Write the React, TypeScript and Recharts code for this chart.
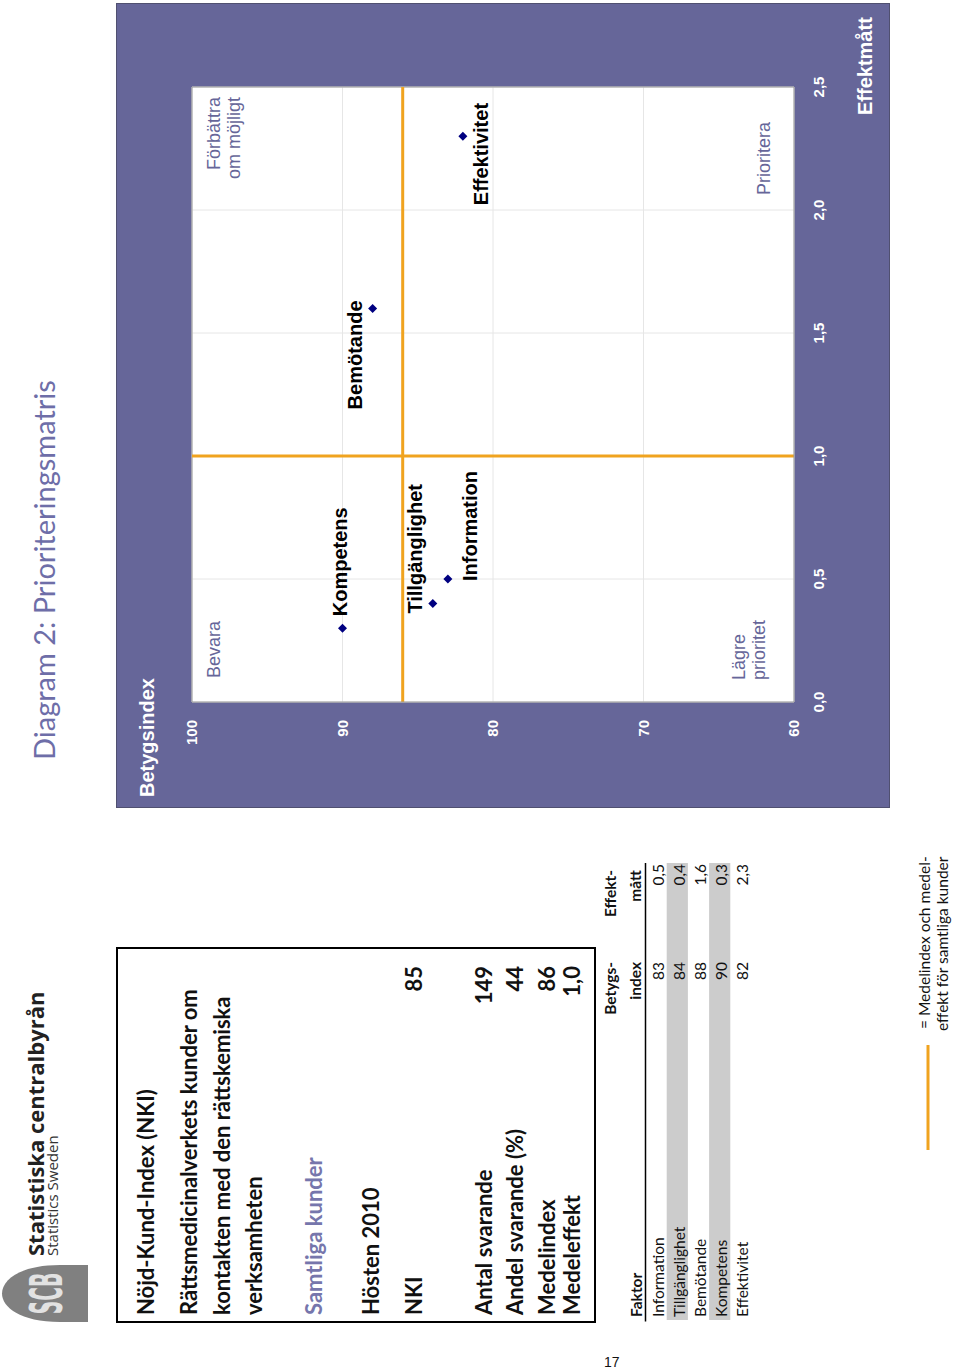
import React from 'react';
import {
  ScatterChart, Scatter, XAxis, YAxis, CartesianGrid, ReferenceLine
} from 'recharts';

// faktorer i prioriteringsmatrisen
const factors = ['Information', 'Tillgänglighet', 'Bemötande', 'Kompetens', 'Effektivitet'];
const betygsindex = [83, 84, 88, 90, 82];
const effektmatt = [0.5, 0.4, 1.6, 0.3, 2.3];

const xTicks = [0, 0.5, 1, 1.5, 2, 2.5];
const yTicks = [60, 70, 80, 90, 100];

const medelindex = 86;
const medeleffekt = 1.0;

const summaryLabels = ['NKI', 'Antal svarande', 'Andel svarande (%)', 'Medelindex', 'Medeleffekt'];
const summaryValues = ['85', '149', '44', '86', '1,0'];

const points = factors.map((name, i) => ({ name, x: effektmatt[i], y: betygsindex[i] }));

// where each point label sits relative to its marker (start x, baseline y)
const labelOffset: Record<string, [number, number]> = {
  Information: [-2, 29],
  'Tillgänglighet': [-10, -11],
  'Bemötande': [-101, -11],
  Kompetens: [12, 4],
  Effektivitet: [-69, 25],
};

const PURPLE = '#666699';
const ORANGE = '#F0A31F';
const ARIAL = '"Liberation Sans", Arial, sans-serif';
const CALIBRI = 'Lato, "Open Sans", sans-serif';

const fmt = (v: number) => v.toFixed(1).replace('.', ',');

function PointShape(props: any) {
  const { cx, cy, payload } = props;
  const [dx, dy] = labelOffset[payload.name] || [8, 0];
  return (
    <g>
      <polygon
        points={`${cx},${cy - 4.5} ${cx + 4.5},${cy} ${cx},${cy + 4.5} ${cx - 4.5},${cy}`}
        fill="#000080"
      />
      <text x={cx + dx} y={cy + dy} fontFamily={ARIAL} fontSize={20} fontWeight="bold" fill="#000">
        {payload.name}
      </text>
    </g>
  );
}

function Matrix() {
  const W = 805;
  const H = 774;
  const q = { fontFamily: ARIAL, fontSize: 18, fill: PURPLE };
  return (
    <div style={{ position: 'absolute', left: 561, top: 116, width: W, height: H, background: PURPLE }}>
      <ScatterChart width={W} height={H} margin={{ top: 76, right: 84, bottom: 0, left: 0 }}>
        <CartesianGrid stroke="#e6e6e6" fill="#ffffff" />
        <XAxis
          type="number"
          dataKey="x"
          domain={[0, 2.5]}
          ticks={xTicks}
          interval={0}
          height={96}
          tickSize={0}
          tickMargin={19}
          tickLine={false}
          axisLine={{ stroke: '#9a9a9a' }}
          tickFormatter={fmt}
          tick={{ fill: '#ffffff', fontSize: 15, fontWeight: 'bold', fontFamily: ARIAL }}
        />
        <YAxis
          type="number"
          dataKey="y"
          domain={[60, 100]}
          ticks={yTicks}
          interval={0}
          width={106}
          tickSize={0}
          tickMargin={18}
          tickLine={false}
          axisLine={{ stroke: '#9a9a9a' }}
          tick={{ fill: '#ffffff', fontSize: 15, fontWeight: 'bold', fontFamily: ARIAL }}
        />
        <ReferenceLine x={2.5} stroke="#9a9a9a" />
        <ReferenceLine y={100} stroke="#9a9a9a" />
        <ReferenceLine y={medelindex} stroke={ORANGE} strokeWidth={3} />
        <ReferenceLine x={medeleffekt} stroke={ORANGE} strokeWidth={3} />
        <Scatter data={points} shape={PointShape} isAnimationActive={false} />
      </ScatterChart>
      <svg width={W} height={H} style={{ position: 'absolute', left: 0, top: 0, pointerEvents: 'none' }}>
        <rect x={0.5} y={0.5} width={W - 1} height={H - 1} fill="none" stroke="#505070" />
        <text x={11} y={38} fontFamily={ARIAL} fontSize={20} fontWeight="bold" fill="#fff">Betygsindex</text>
        <text x={693} y={756} fontFamily={ARIAL} fontSize={20} fontWeight="bold" fill="#fff">Effektmått</text>
        <text x={130} y={104} {...q}>Bevara</text>
        <text x={711} y={104} textAnchor="end" {...q}>Förbättra</text>
        <text x={711} y={124} textAnchor="end" {...q}>om möjligt</text>
        <text x={128} y={629} {...q}>Lägre</text>
        <text x={128} y={649} {...q}>prioritet</text>
        <text x={686} y={654} textAnchor="end" {...q}>Prioritera</text>
      </svg>
    </div>
  );
}

function PageText() {
  const boxBaselines = [492, 523, 555, 580];
  return (
    <svg width={1369} height={960} style={{ position: 'absolute', left: 0, top: 0 }}>
      {/* logo */}
      <path d="M47,88 L47,60 C47,20 62,2 75.5,2 C89,2 104,20 104,60 L104,88 Z" fill="#808080" />
      <text x={75.5} y={62} textAnchor="middle" fontFamily="DejaVu Sans Condensed, DejaVu Sans" fontWeight="bold"
        fontSize={26} fill="#e2e2e2" transform="translate(75.5,62) scale(0.8,1.7) translate(-75.5,-62)">SCB</text>
      <text x={113} y={44} fontFamily='"Open Sans", sans-serif' fontWeight="bold" fontSize={22} fill="#222">Statistiska centralbyrån</text>
      <text x={113} y={58} fontFamily='"Open Sans", sans-serif' fontSize={15} fill="#333">Statistics Sweden</text>

      <text x={609} y={55} fontFamily={CALIBRI} fontSize={29} fill="#6e6ea8">Diagram 2: Prioriteringsmatris</text>

      {/* NKI box */}
      <rect x={47} y={117} width={374} height={478} fill="none" stroke="#000" strokeWidth={2} />
      <g fontFamily={CALIBRI} fontWeight="bold" fontSize={22} fill="#111">
        <text x={54} y={154}>Nöjd-Kund-Index (NKI)</text>
        <text x={54} y={197}>Rättsmedicinalverkets kunder om</text>
        <text x={54} y={230}>kontakten med den rättskemiska</text>
        <text x={54} y={262}>verksamheten</text>
        <text x={54} y={322} fill="#7676ac">Samtliga kunder</text>
        <text x={54} y={379}>Hösten 2010</text>
        <text x={54} y={422}>{summaryLabels[0]}</text>
        <text x={403} y={422} textAnchor="end">{summaryValues[0]}</text>
        {summaryLabels.slice(1).map((l, i) => (
          <g key={l}>
            <text x={54} y={boxBaselines[i]}>{l}</text>
            <text x={403} y={boxBaselines[i]} textAnchor="end">{summaryValues[i + 1]}</text>
          </g>
        ))}
      </g>

      {/* table */}
      {factors.map((f, i) => (i % 2 === 1 ? (
        <rect key={f} x={49} y={645.5 + 21.2 * i} width={457} height={21.2} fill="#cccccc" />
      ) : null))}
      <line x1={47.5} x2={506} y1={645.5} y2={645.5} stroke="#000" strokeWidth={1.5} />
      <g fontFamily={CALIBRI} fontSize={15.5} fill="#111">
        <text x={52} y={642} fontWeight="bold">Faktor</text>
        <text x={407} y={616} fontWeight="bold" textAnchor="end">Betygs-</text>
        <text x={407} y={641} fontWeight="bold" textAnchor="end">index</text>
        <text x={499} y={616} fontWeight="bold" textAnchor="end">Effekt-</text>
        <text x={499} y={641} fontWeight="bold" textAnchor="end">mått</text>
        {factors.map((f, i) => (
          <g key={f}>
            <text x={52} y={645.5 + 21.2 * i + 18}>{f}</text>
            <text x={407} y={645.5 + 21.2 * i + 18} textAnchor="end">{betygsindex[i]}</text>
            <text x={505} y={645.5 + 21.2 * i + 18} textAnchor="end">{fmt(effektmatt[i])}</text>
          </g>
        ))}
      </g>

      {/* legend */}
      <line x1={219} x2={324} y1={928} y2={928} stroke={ORANGE} strokeWidth={3} />
      <g fontFamily={CALIBRI} fontSize={15.5} fill="#111">
        <text x={340} y={930}>= Medelindex och medel-</text>
        <text x={338} y={948}>effekt för samtliga kunder</text>
      </g>
    </svg>
  );
}

export default function App() {
  return (
    <div style={{ position: 'absolute', left: 0, top: 0, width: 960, height: 1369, overflow: 'hidden', background: '#fff' }}>
      <div
        style={{
          position: 'absolute', left: 0, top: 0, width: 1369, height: 960,
          transform: 'translate(0px, 1369px) rotate(-90deg)', transformOrigin: '0 0',
        }}
      >
        <PageText />
        <Matrix />
      </div>
      <div style={{ position: 'absolute', left: 604, top: 1354, fontFamily: ARIAL, fontSize: 14, color: '#111' }}>17</div>
    </div>
  );
}
